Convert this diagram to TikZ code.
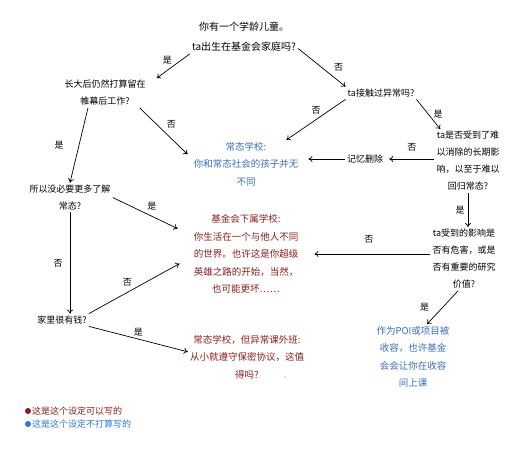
\documentclass[tikz,border=0pt]{standalone}
\usepackage{fontspec}
\setmainfont{Noto Sans CJK SC}
\usepackage{xcolor}
\usetikzlibrary{arrows.meta,calc}
\definecolor{keepred}{RGB}{139,28,28}
\definecolor{normblue}{RGB}{58,110,180}
\definecolor{dotblue}{RGB}{45,120,215}
\tikzset{
  ask/.style    ={align=center,font=\fontsize{9}{17}\selectfont,inner sep=2pt},
  redbox/.style ={ask,text=keepred,font=\fontsize{9.5}{17.5}\selectfont},
  bluebox/.style={ask,text=normblue,font=\fontsize{9.5}{17.5}\selectfont},
  arr/.style    ={-{To[length=4pt,width=6pt]},line width=0.7pt},
  lbl/.style    ={font=\fontsize{9}{9}\selectfont,inner sep=1pt},
}
\begin{document}
\begin{tikzpicture}[x=1pt,y=-1pt]
  \useasboundingbox (0,0) rectangle (512,450);
  % questions
  \node[ask,font=\fontsize{10}{20}\selectfont] (start) at (244,37){你有一个学龄儿童。\\ta出生在基金会家庭吗?};
  \node[ask] (stay)   at (105,93) {长大后仍然打算留在\\帷幕后工作?};
  \node[ask] (touch)  at (381,93) {ta接触过异常吗?};
  \node[ask] (lasting) at (468,161){ta是否受到了难\\以消除的长期影\\响，以至于难以\\回归常态?};
  \node[ask] (wipe)   at (365,159){记忆删除};
  \node[ask] (nomore) at (70,197.5){所以没必要更多了解\\常态?};
  \node[ask] (harm)   at (464,259){ta受到的影响是\\否有危害，或是\\否有重要的研究\\价值?};
  \node[ask] (rich)   at (62,320) {家里很有钱?};
  % outcomes
  \node[bluebox] (norm)  at (246,164){常态学校:\\你和常态社会的孩子并无\\不同};
  \node[redbox] (found)  at (246,254){基金会下属学校:\\你生活在一个与他人不同\\的世界。也许这是你超级\\英雄之路的开始，当然，\\也可能更坏……};
  \node[redbox] (extra)  at (247,357){常态学校，但异常课外班:\\从小就遵守保密协议，这值\\得吗?};
  \node[bluebox] (poi)   at (413,357){作为POI或项目被\\收容，也许基金\\会会让你在收容\\间上课};
  \fill[gray] (285,377) circle (0.7);

  \draw[arr] (start.south west) -- ([xshift=9pt]stay.north east) node[lbl,midway,above left=0pt]{是};
  \draw[arr] (start.-12) -- (touch.north west) node[lbl,midway,right=11pt]{否};
  \draw[arr] ([xshift=-17pt]stay.south) -- (nomore.north) node[lbl,midway,left=14pt]{是};
  \draw[arr] ([xshift=-8pt]stay.south east) -- ([xshift=-4pt]norm.170) node[lbl,midway,above right=2pt]{否};
  \draw[arr] (touch.south west) -- ([xshift=-14pt]norm.north east) node[lbl,midway,above=4pt]{否};
  \draw[arr] (touch.south east) -- ([xshift=6pt]lasting.north west) node[lbl,midway,right=4pt]{是};
  \draw[arr] (lasting.west |- wipe.east) -- ([xshift=4pt]wipe.east) node[lbl,midway,above=6pt]{否};
  \draw[arr] (wipe.west) -- ([xshift=8pt]wipe.west -| norm.east);
  \draw[arr] (lasting.south) -- (lasting.south |- harm.north) node[lbl,midway,left=2pt]{是};
  \draw[arr] (harm.west |- found.east) -- ([xshift=14pt]found.east) node[lbl,pos=0.53,above=9pt]{否};
  \draw[arr] ([xshift=-6pt]harm.south) -- ([xshift=14pt]poi.north) node[lbl,midway,left=12pt]{是};
  \draw[arr] (nomore.east) -- ([xshift=-14pt]found.155) node[lbl,midway,above right=1pt]{是};
  \draw[arr] (nomore.south) -- (nomore.south |- rich.north) node[lbl,midway,left=6pt]{否};
  \draw[arr] (rich.north east) -- ([xshift=-12pt]found.190) node[lbl,midway,above left=1pt]{否};
  \draw[arr] (rich.south east) -- (extra.175) node[lbl,midway,above=2pt]{是};

  % legend
  \foreach \y/\c/\t [count=\i] in {411/keepred/这是这个设定可以写的,424/dotblue/这是这个设定不打算写的}{
    \fill[\c] (28,\y) circle (3);
    \node[lbl,anchor=west,text=\c,inner sep=0pt] (leg\i) at (32,\y){\t};
  }
\end{tikzpicture}
\end{document}
